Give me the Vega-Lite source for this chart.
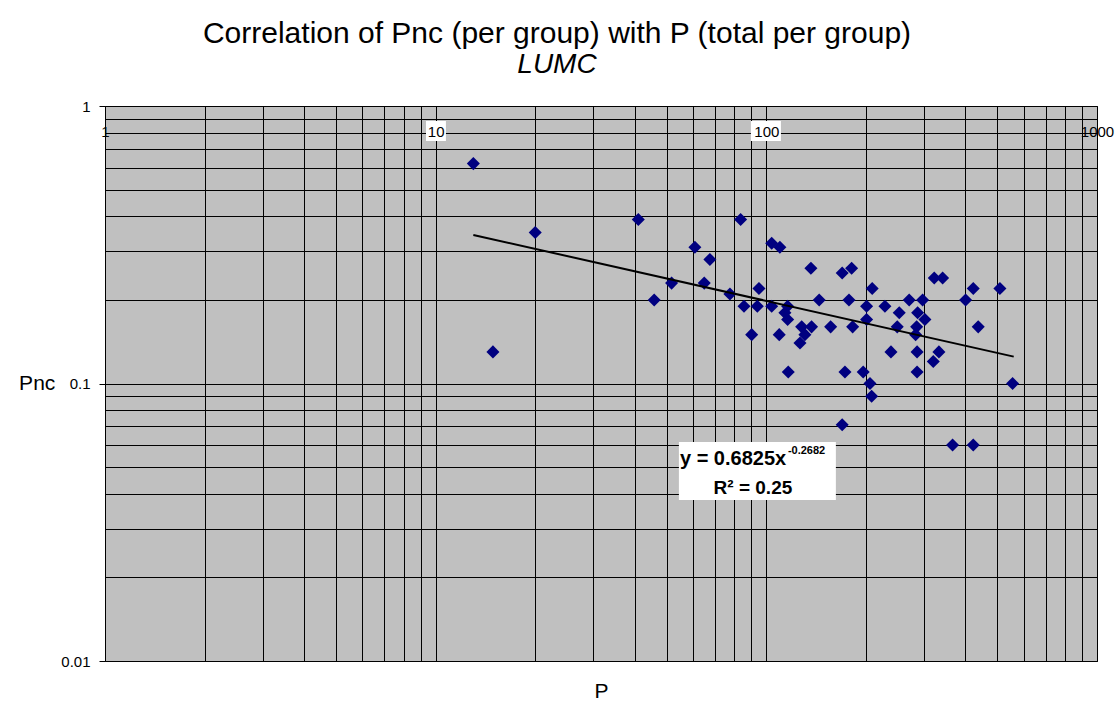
{
  "$schema": "https://vega.github.io/schema/vega-lite/v6.json",
  "width": 992,
  "height": 555,
  "autosize": {"type": "none"},
  "padding": {"left": 105, "top": 106, "right": 20, "bottom": 41},
  "background": "#ffffff",
  "config": {
    "font": "Liberation Sans",
    "view": {"fill": "#C0C0C0", "stroke": "#000000", "strokeWidth": 1},
    "axis": {"titleFontWeight": "normal", "titleFontSize": 21, "titleColor": "#000000", "labelFontSize": 15, "labelColor": "#000000"}
  },
  "title": {
    "text": "Correlation of Pnc (per group) with P (total per group)",
    "subtitle": "LUMC",
    "fontSize": 30,
    "subtitleFontSize": 28,
    "subtitleFontStyle": "italic",
    "fontWeight": "normal",
    "color": "#000000",
    "subtitleColor": "#000000",
    "anchor": "middle",
    "frame": "group",
    "dx": -44,
    "offset": 20,
    "subtitlePadding": 2
  },
  "resolve": {"axis": {"x": "independent"}},
  "encoding": {
    "y": {
      "field": "Pnc",
      "type": "quantitative",
      "title": "Pnc",
      "scale": {"type": "log", "domain": [0.01, 1], "nice": false},
      "axis": {
        "values": [0.01, 0.02, 0.03, 0.04, 0.05, 0.06, 0.07, 0.08, 0.09, 0.1, 0.2, 0.3, 0.4, 0.5, 0.6, 0.7, 0.8, 0.9, 1],
        "format": "~g",
        "labelExpr": "datum.value==0.01||datum.value==0.1||datum.value==1 ? datum.label : ''",
        "tickSize": 6,
        "tickColor": "#000000",
        "tickOpacity": {"condition": {"test": "datum.value==0.01||datum.value==0.1||datum.value==1", "value": 1}, "value": 0},
        "labelPadding": 9,
        "labelFontSize": 15,
        "labelColor": "#000000",
        "labelOverlap": false,
        "domain": false,
        "grid": true,
        "gridColor": "#000000",
        "gridOpacity": 1,
        "gridWidth": 1,
        "titleAngle": 0,
        "titleAlign": "right",
        "titleBaseline": "middle",
        "titleFontSize": 21,
        "titleFontWeight": "normal",
        "titleColor": "#000000",
        "titlePadding": 6
      }
    }
  },
  "layer": [
    {
      "encoding": {
        "x": {
          "field": "P",
          "type": "quantitative",
          "title": "P",
          "scale": {"type": "log", "domain": [1, 1000], "nice": false},
          "axis": {
            "orient": "bottom",
            "values": [1, 2, 3, 4, 5, 6, 7, 8, 9, 10, 20, 30, 40, 50, 60, 70, 80, 90, 100, 200, 300, 400, 500, 600, 700, 800, 900, 1000],
            "labels": false,
            "ticks": false,
            "tickSize": 0,
            "domain": false,
            "grid": true,
            "gridColor": "#000000",
            "gridOpacity": 1,
            "gridWidth": 1,
            "titleFontSize": 21,
            "titleFontWeight": "normal",
            "titleColor": "#000000",
            "titlePadding": 19
          }
        }
      },
      "layer": [
        {
          "data": {"values": [
            {"P": 13.0, "Pnc": 0.62}, {"P": 14.9, "Pnc": 0.13}, {"P": 20.0, "Pnc": 0.35},
            {"P": 41.0, "Pnc": 0.39}, {"P": 45.8, "Pnc": 0.20}, {"P": 51.7, "Pnc": 0.23},
            {"P": 60.8, "Pnc": 0.31}, {"P": 64.9, "Pnc": 0.23}, {"P": 67.5, "Pnc": 0.28},
            {"P": 77.6, "Pnc": 0.21}, {"P": 83.6, "Pnc": 0.39}, {"P": 85.6, "Pnc": 0.19},
            {"P": 90.3, "Pnc": 0.15}, {"P": 93.9, "Pnc": 0.19}, {"P": 95.0, "Pnc": 0.22},
            {"P": 103.8, "Pnc": 0.32}, {"P": 103.8, "Pnc": 0.19}, {"P": 109.9, "Pnc": 0.31},
            {"P": 109.4, "Pnc": 0.15}, {"P": 116, "Pnc": 0.19}, {"P": 113.8, "Pnc": 0.18},
            {"P": 116, "Pnc": 0.17}, {"P": 116.5, "Pnc": 0.11}, {"P": 126.4, "Pnc": 0.14},
            {"P": 127.9, "Pnc": 0.16}, {"P": 130.8, "Pnc": 0.15}, {"P": 136.4, "Pnc": 0.26},
            {"P": 137, "Pnc": 0.16}, {"P": 144.5, "Pnc": 0.20}, {"P": 156.5, "Pnc": 0.16},
            {"P": 169.6, "Pnc": 0.25}, {"P": 169.6, "Pnc": 0.071}, {"P": 172.9, "Pnc": 0.11},
            {"P": 177.8, "Pnc": 0.20}, {"P": 181.1, "Pnc": 0.26}, {"P": 182.4, "Pnc": 0.16},
            {"P": 196.3, "Pnc": 0.11}, {"P": 201, "Pnc": 0.19}, {"P": 201, "Pnc": 0.17},
            {"P": 205.8, "Pnc": 0.10}, {"P": 208.2, "Pnc": 0.09}, {"P": 209, "Pnc": 0.22},
            {"P": 228.4, "Pnc": 0.19}, {"P": 238.2, "Pnc": 0.13}, {"P": 248.8, "Pnc": 0.16},
            {"P": 252.3, "Pnc": 0.18}, {"P": 270.4, "Pnc": 0.20}, {"P": 282.8, "Pnc": 0.15},
            {"P": 284.8, "Pnc": 0.16}, {"P": 285.7, "Pnc": 0.13}, {"P": 285.7, "Pnc": 0.11},
            {"P": 286.8, "Pnc": 0.18}, {"P": 296.9, "Pnc": 0.20}, {"P": 301.7, "Pnc": 0.17},
            {"P": 319.8, "Pnc": 0.12}, {"P": 322, "Pnc": 0.24}, {"P": 332.6, "Pnc": 0.13},
            {"P": 341.3, "Pnc": 0.24}, {"P": 365.8, "Pnc": 0.06}, {"P": 400.5, "Pnc": 0.20},
            {"P": 422.4, "Pnc": 0.22}, {"P": 422.4, "Pnc": 0.06}, {"P": 437.3, "Pnc": 0.16},
            {"P": 508.6, "Pnc": 0.22}, {"P": 555.6, "Pnc": 0.10}
          ]},
          "mark": {"type": "point", "shape": "diamond", "filled": true, "color": "#000080", "opacity": 1, "size": 170}
        },
        {
          "data": {"values": [{"P": 13, "Pnc": 0.343}, {"P": 560, "Pnc": 0.125}]},
          "mark": {"type": "line", "color": "#000000", "strokeWidth": 2},
          "encoding": {}
        },
        {
          "data": {"values": [{"P": 54.4, "P2": 162.3, "Pnc": 0.0615, "Pnc2": 0.038}]},
          "mark": {"type": "rect", "fill": "#ffffff"},
          "encoding": {
            "x2": {"field": "P2"},
            "y2": {"field": "Pnc2"}
          }
        },
        {
          "data": {"values": [{"P": 54.8, "Pnc": 0.0534, "t": "y = 0.6825x"}]},
          "mark": {"type": "text", "align": "left", "baseline": "middle", "fontSize": 20, "fontWeight": "bold", "color": "#000000"},
          "encoding": {"text": {"field": "t"}}
        },
        {
          "data": {"values": [{"P": 116.2, "Pnc": 0.0569, "t": "-0.2682"}]},
          "mark": {"type": "text", "align": "left", "baseline": "middle", "fontSize": 11, "fontWeight": "bold", "color": "#000000"},
          "encoding": {"text": {"field": "t"}}
        },
        {
          "data": {"values": [{"P": 91.1, "Pnc": 0.042, "t": "R² = 0.25"}]},
          "mark": {"type": "text", "align": "center", "baseline": "middle", "fontSize": 19, "fontWeight": "bold", "color": "#000000"},
          "encoding": {"text": {"field": "t"}}
        }
      ]
    },
    {
      "data": {"values": [
        {"P": 9.35, "P2": 10.74, "Pnc": 0.883, "Pnc2": 0.748},
        {"P": 89.8, "P2": 110.7, "Pnc": 0.883, "Pnc2": 0.748}
      ]},
      "mark": {"type": "rect", "fill": "#ffffff"},
      "encoding": {
        "x": {
          "field": "P",
          "type": "quantitative",
          "scale": {"type": "log", "domain": [1, 1000], "nice": false},
          "axis": {
            "title": null,
            "orient": "bottom",
            "zindex": 1,
            "values": [1, 10, 100, 1000],
            "format": "~g",
            "ticks": false,
            "tickSize": 0,
            "labelPadding": -530,
            "labelBaseline": "middle",
            "labelFlush": false,
            "labelOverlap": false,
            "labelFontSize": 15,
            "labelColor": "#000000",
            "domain": false,
            "grid": false
          }
        },
        "x2": {"field": "P2"},
        "y2": {"field": "Pnc2"}
      }
    }
  ]
}
